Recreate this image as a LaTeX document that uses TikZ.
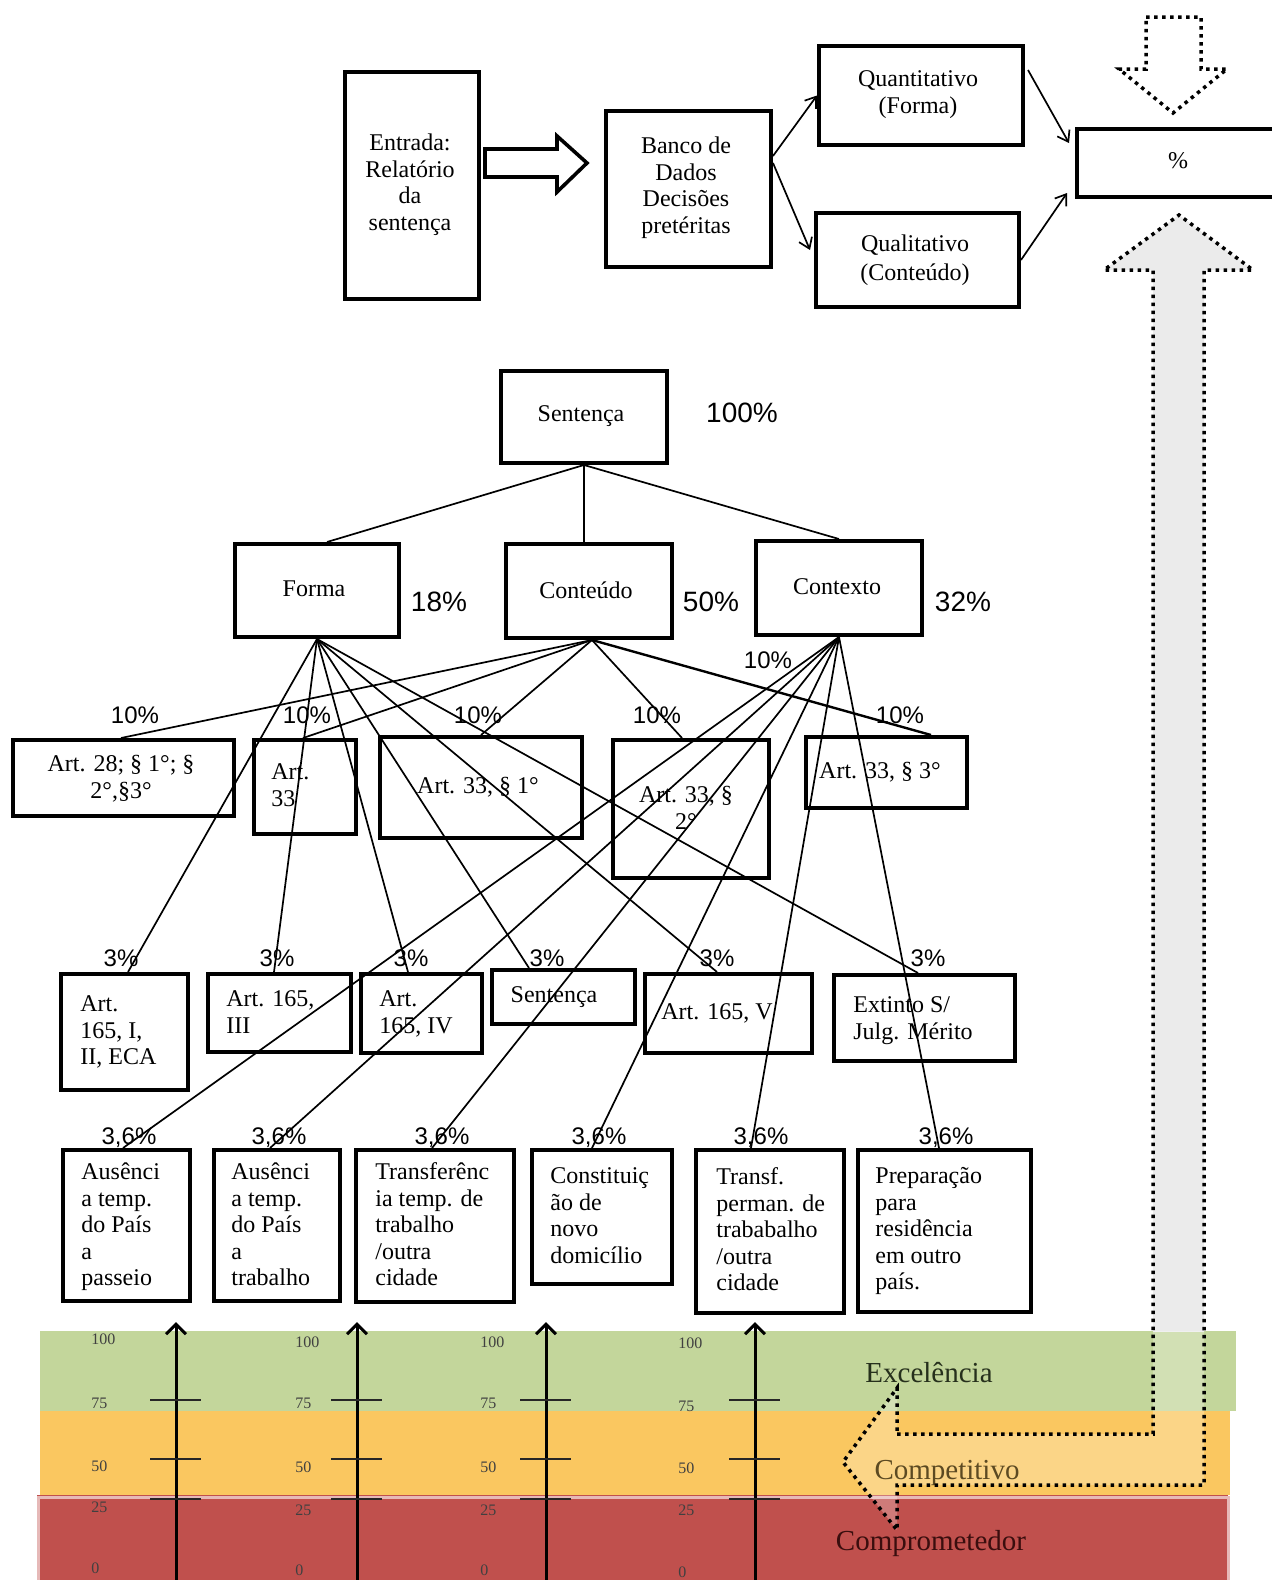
\documentclass[tikz,border=0pt]{standalone}
\usepackage{fontspec}
\setmainfont{Liberation Serif}
\newfontfamily\pctfont{Liberation Sans}
\usetikzlibrary{arrows.meta,calc}
\definecolor{bandgreen}{HTML}{C3D69B}
\definecolor{bandorange}{HTML}{FAC760}
\definecolor{bandred}{HTML}{C0504D}
\definecolor{bandredborder}{HTML}{E6B9B8}
\definecolor{arrowgray}{HTML}{EBEBEB}
\definecolor{exctext}{HTML}{26301C}
\definecolor{comptext}{HTML}{5C4A22}
\definecolor{comprtext}{HTML}{3A0E0E}
\tikzset{
 box/.style={draw, line width=2pt, anchor=north west, inner sep=0pt},
 conn/.style={line width=0.85pt},
 tip/.style={-{Straight Barb[length=5pt,width=7pt]}},
 txt/.style={font=\fontsize{12}{13.25}\selectfont, inner sep=0pt, align=left, anchor=north west},
 ctxt/.style={font=\fontsize{12}{13.25}\selectfont, inner sep=0pt, align=center, anchor=north},
 btxt/.style={font=\fontsize{12}{13.25}\selectfont, inner sep=0pt},
 pct/.style={font=\pctfont\fontsize{14}{16}\selectfont, inner sep=0pt},
 spct/.style={font=\pctfont\fontsize{12}{14}\selectfont, inner sep=0pt},
 dotline/.style={line width=1.75pt, dash pattern=on 1.75pt off 2.25pt},
 scl/.style={font=\fontsize{8}{9}\selectfont, inner sep=0pt, text=black!75, anchor=west},
 scalearrow/.style={line width=1.5pt, -{Straight Barb[length=5pt,width=10pt]}},
 tickline/.style={line width=1.2pt, black!85},
 zone/.style={font=\fontsize{14.5}{16}\selectfont, inner sep=0pt}
}
\newcommand\bx[5]{\node[box, minimum width={(#4-#2)*0.5pt}, minimum height={(#5-#3)*0.5pt}] (#1) at (#2,#3) {};}
\begin{document}
\begin{tikzpicture}[x=0.5pt,y=-0.5pt]
\useasboundingbox (0,0) rectangle (1272,1580);
% coloured bands
\fill[bandgreen] (40,1331) rectangle (1236,1411);
\fill[bandorange] (40,1411) rectangle (1230,1495);
\fill[bandred] (37,1495) rectangle (1228,1582);
\draw[bandredborder, line width=1.5pt] (38,1585) -- (38,1497) -- (1228,1497) -- (1228,1585);
% scales
\foreach \ax/\lx/\ya/\yb/\yc/\yd/\ye in {176/91/1339/1403/1466/1507/1568, 357/295/1342/1403/1467/1510/1570, 546/480/1342/1403/1467/1510/1570, 755/678/1343/1406/1468/1510/1572}{
 \draw[scalearrow] (\ax,1582) -- (\ax,1322);
 \foreach \ty in {1400,1459,1499} \draw[tickline] (\ax-26,\ty) -- (\ax+25,\ty);
 \node[scl] (s100-\ax) at (\lx,\ya) {100};
 \node[scl] (s75-\ax) at (\lx,\yb) {75};
 \node[scl] (s50-\ax) at (\lx,\yc) {50};
 \node[scl] (s25-\ax) at (\lx,\yd) {25};
 \node[scl] (s0-\ax) at (\lx,\ye) {0};
}
\node[zone, text=exctext] (exc) at (929,1373) {Excelência};
\node[zone, text=comprtext] (compr) at (931,1544) {Comprometedor};
% L-shaped feedback arrow
\begin{scope}
\clip (0,0) rectangle (1272,1331);
\fill[arrowgray] (897,1434) -- (1153,1434) -- (1153,270) -- (1104,270) -- (1179,215) -- (1253,270) -- (1204,270) -- (1204,1485) -- (897,1485) -- (897,1530) -- (843,1462) -- (897,1388) -- cycle;
\end{scope}
\begin{scope}
\clip (0,1331) rectangle (1272,1580);
\fill[white, fill opacity=0.25] (897,1434) -- (1153,1434) -- (1153,270) -- (1104,270) -- (1179,215) -- (1253,270) -- (1204,270) -- (1204,1485) -- (897,1485) -- (897,1530) -- (843,1462) -- (897,1388) -- cycle;
\end{scope}
\node[zone, text=comptext] (comp) at (947,1473) {Competitivo};
\draw[dotline] (897,1434) -- (1153,1434) -- (1153,270) -- (1104,270) -- (1179,215) -- (1253,270) -- (1204,270) -- (1204,1485) -- (897,1485) -- (897,1530) -- (843,1462) -- (897,1388) -- cycle;
% top down arrow
\draw[dotline] (1146,17) -- (1201,17) -- (1201,69) -- (1227,69) -- (1173,113) -- (1119,69) -- (1146,69) -- cycle;
% top section
\bx{entrada}{343}{70}{477}{297}
\bx{banco}{604}{109}{769}{265}
\bx{quant}{817}{44}{1021}{143}
\bx{qual}{814}{211}{1017}{305}
\bx{pctbox}{1075}{127}{1300}{195}
\node[ctxt] (entradaT) at (410,132) {\strut Entrada:\\Relatório\\da\\sentença};
\node[ctxt] (bancoT) at (686,135) {\strut Banco de\\Dados\\Decisões\\pretéritas};
\node[ctxt] (quantT) at (918,68) {\strut Quantitativo\\(Forma)};
\node[ctxt, font=\fontsize{12}{14.5}\selectfont] (qualT) at (915,231) {\strut Qualitativo\\(Conteúdo)};
\node[btxt] (pctT) at (1178,161) {\%};
\draw[line width=1.8pt, line join=miter] (485,149) -- (557,149) -- (557,136) -- (587,163) -- (557,192) -- (557,177) -- (485,177) -- cycle;
\draw[conn, tip] ($(banco.north east)+(0,47)$) -- (quant.west);
\draw[conn, tip] ($(banco.north east)+(0,54)$) -- ($(qual.west)+(-4,-10)$);
\draw[conn, tip] ($(quant.north east)+(3,26)$) -- ($(pctbox.north west)+(-6,16)$);
\draw[conn, tip] (qual.east) -- ($(pctbox.south west)+(-8,-6)$);
% tree level 1-2
\bx{sent}{499}{369}{665}{461}
\bx{forma}{233}{542}{397}{635}
\bx{cont}{504}{542}{670}{636}
\bx{ctx}{754}{539}{920}{633}
\node[btxt] (sentT) at (581,416) {Sentença};
\node[btxt] (formaT) at (314,589) {Forma};
\node[btxt] (contT) at (586,590) {Conteúdo};
\node[btxt] (ctxT) at (837,587) {Contexto};
\node[pct] (p100) at (742,413) {100\%};
\node[pct] (p18) at (439,602) {18\%};
\node[pct] (p50) at (711,602) {50\%};
\node[pct] (p32) at (963,602) {32\%};
\draw[conn] (sent.south) -- ($(forma.north)+(10,0)$);
\draw[conn] (sent.south) -- (sent.south |- cont.north);
\draw[conn] (sent.south) -- (ctx.north);
% level 3
\bx{a28}{11}{738}{232}{814}
\bx{a33}{252}{738}{354}{832}
\bx{a331}{378}{735}{580}{836}
\bx{a332}{611}{738}{767}{876}
\bx{a333}{804}{735}{965}{806}
\node[ctxt] (a28T) at (121,753) {\strut Art. 28; § 1°; §\\2°,§3°};
\node[txt] (a33T) at (271,761) {\strut Art.\\33};
\node[btxt] (a331T) at (478,787) {Art. 33, § 1°};
\node[ctxt] (a332T) at (686,784) {\strut Art. 33, §\\2°};
\node[btxt] (a333T) at (880,772) {Art. 33, § 3°};
\foreach \n/\x/\y in {a/135/715, b/307/715, c/478/715, d/657/715, e/900/715, f/768/660}
 \node[spct] (p10\n) at (\x,\y) {10\%};
\draw[conn] ($(cont.south)+(3,0)$) -- ($(a28.north west)+(110,0)$);
\draw[conn] ($(cont.south)+(3,0)$) -- ($(a33.north west)+(51,0)$);
\draw[conn] ($(cont.south)+(3,0)$) -- ($(a331.north west)+(103,0)$);
\draw[conn] ($(cont.south)+(3,0)$) -- ($(a332.north west)+(71,0)$);
\draw[conn, line width=1.2pt] ($(cont.south)+(3,0)$) -- ($(a333.north west)+(127,0)$);
% level 4
\bx{r4a}{59}{972}{186}{1088}
\bx{r4b}{206}{972}{349}{1050}
\bx{r4c}{359}{972}{480}{1051}
\bx{r4d}{490}{968}{633}{1022}
\bx{r4e}{643}{972}{810}{1051}
\bx{r4f}{832}{973}{1013}{1059}
\node[txt] (r4aT) at (80,993) {\strut Art.\\165, I,\\II, ECA};
\node[txt] (r4bT) at (226,988) {\strut Art. 165,\\III};
\node[txt] (r4cT) at (379,988) {\strut Art.\\165, IV};
\node[btxt] (r4dT) at (554,997) {Sentença};
\node[btxt] (r4eT) at (717,1013) {Art. 165, V};
\node[txt] (r4fT) at (853,994) {\strut Extinto S/\\Julg. Mérito};
\foreach \n/\x in {a/121, b/277, c/411, d/547, e/717, f/928}
 \node[spct] (p3\n) at (\x,958) {3\%};
\draw[conn] (forma.south) -- ($(r4a.north west)+(69,0)$);
\draw[conn] (forma.south) -- ($(r4b.north west)+(68,0)$);
\draw[conn] (forma.south) -- ($(r4c.north west)+(49,0)$);
\draw[conn] (forma.south) -- ($(r4d.north west)+(39,0)$);
\draw[conn] (forma.south) -- ($(r4e.north west)+(74,0)$);
\draw[conn] (forma.south) -- ($(r4f.north west)+(86,0)$);
% level 5
\bx{r5a}{61}{1148}{188}{1299}
\bx{r5b}{212}{1148}{338}{1299}
\bx{r5c}{354}{1148}{512}{1300}
\bx{r5d}{530}{1148}{670}{1282}
\bx{r5e}{694}{1148}{842}{1311}
\bx{r5f}{856}{1148}{1029}{1310}
\node[txt] (r5aT) at (81,1161) {\strut Ausênci\\a temp.\\do País\\a\\passeio};
\node[txt] (r5bT) at (231,1161) {\strut Ausênci\\a temp.\\do País\\a\\trabalho};
\node[txt] (r5cT) at (375,1161) {\strut Transferênc\\ia temp. de\\trabalho\\/outra\\cidade};
\node[txt] (r5dT) at (550,1165) {\strut Constituiç\\ão de\\novo\\domicílio};
\node[txt] (r5eT) at (716,1166) {\strut Transf.\\perman. de\\trababalho\\/outra\\cidade};
\node[txt] (r5fT) at (875,1165) {\strut Preparação\\para\\residência\\em outro\\país.};
\foreach \n/\x in {a/129, b/279, c/442, d/599, e/761, f/946}
 \node[spct] (p36\n) at (\x,1138) {3,6\%};
\draw[conn] (ctx.south) -- ($(r5a.north west)+(62,0)$);
\draw[conn] (ctx.south) -- ($(r5b.north west)+(58,0)$);
\draw[conn] (ctx.south) -- ($(r5c.north west)+(78,0)$);
\draw[conn] (ctx.south) -- ($(r5d.north west)+(62,0)$);
\draw[conn] (ctx.south) -- ($(r5e.north west)+(57,0)$);
\draw[conn] (ctx.south) -- ($(r5f.north west)+(83,0)$);
\end{tikzpicture}
\end{document}
